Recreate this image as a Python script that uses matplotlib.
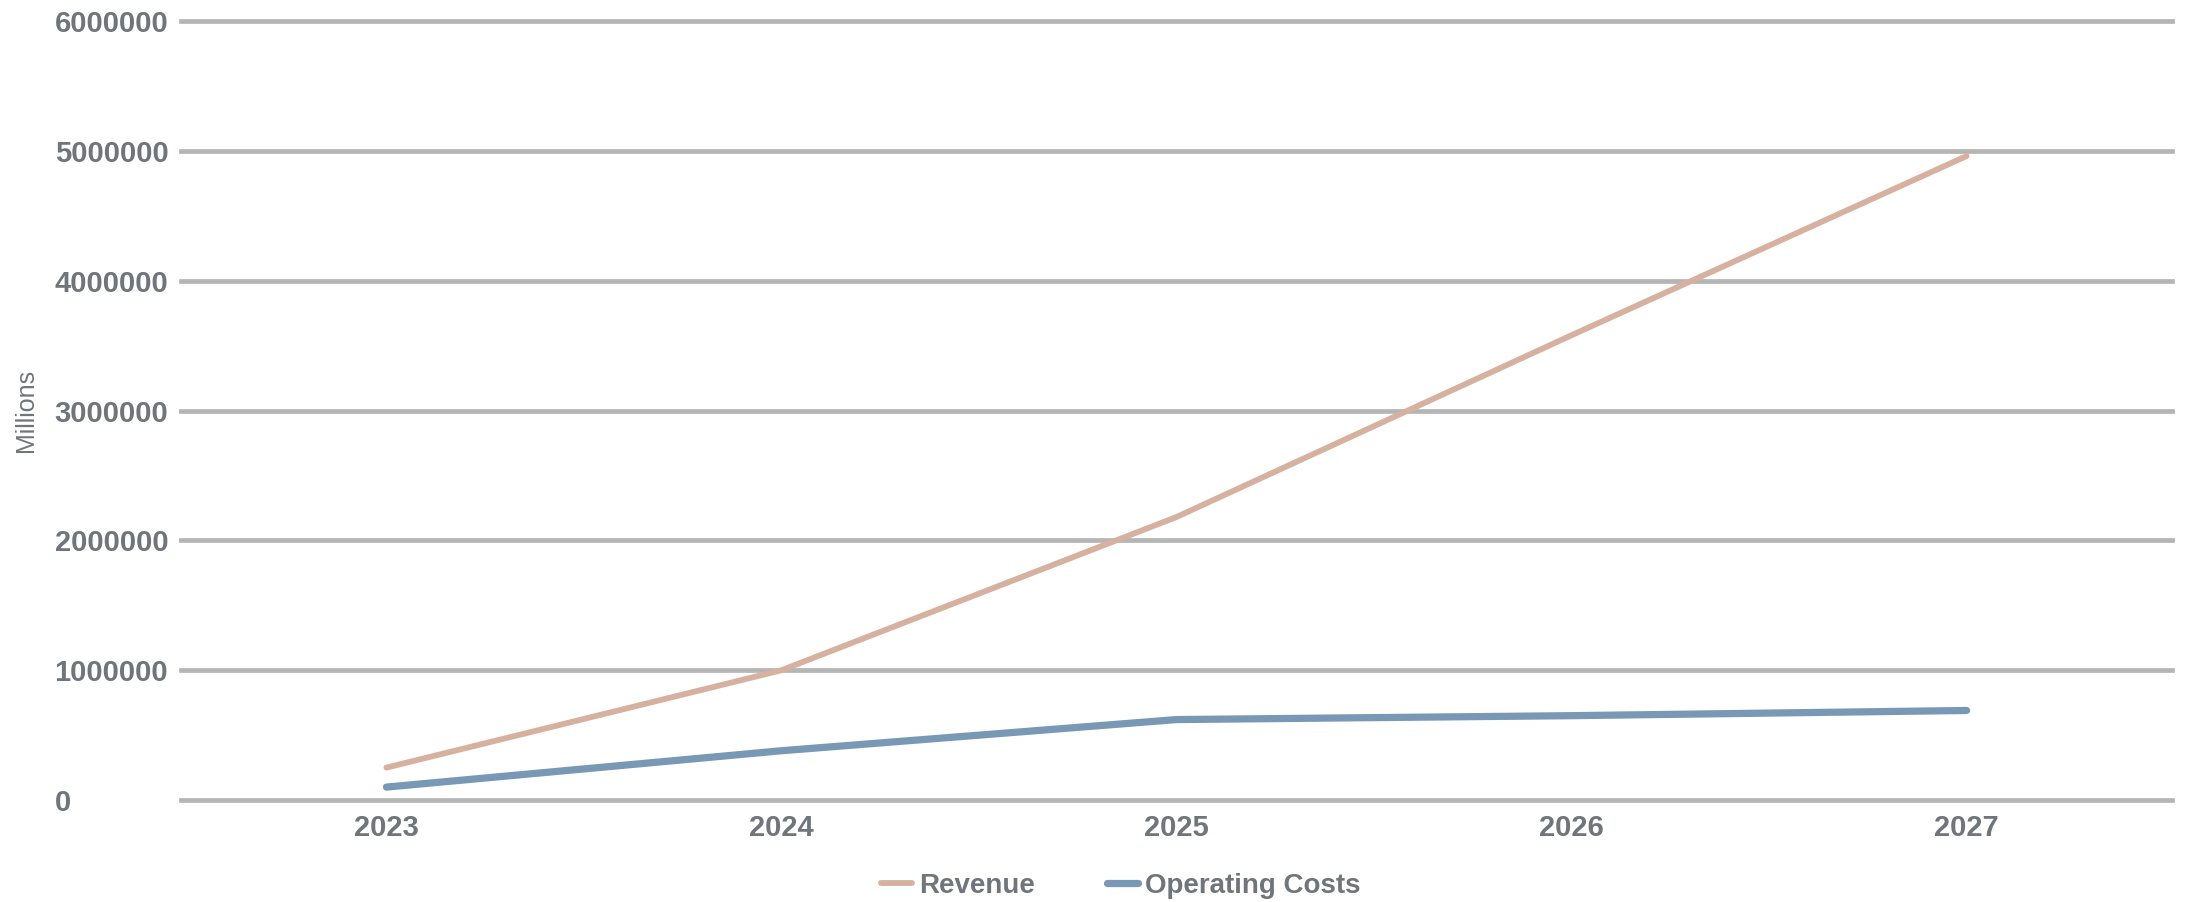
import matplotlib
matplotlib.use("Agg")
import matplotlib.pyplot as plt
import numpy as np

# values
years = ["2023", "2024", "2025", "2026", "2027"]
revenue = [250000, 1000000, 2180000, 3580000, 4960000]
operating_costs = [100000, 380000, 620000, 650000, 690000]
y_ticks = [0, 1000000, 2000000, 3000000, 4000000, 5000000, 6000000]

text_color = "#70757b"
plt.rcParams["font.family"] = ["Liberation Sans", "DejaVu Sans"]

fig = plt.figure(figsize=(21.86, 9.02), dpi=100)
ax = fig.add_axes([0.0828, 0.113, 0.9108, 0.8637])

x = np.arange(len(years))
ax.plot(x, revenue, color="#d6b1a0", lw=4.2, solid_capstyle="round", label="Revenue")
ax.plot(x, operating_costs, color="#7898b5", lw=5.2, solid_capstyle="round",
        label="Operating Costs")

ax.set_xlim(-0.52, len(years) - 1 + 0.52)
ax.set_ylim(0, 6000000)
ax.set_xticks(x)
ax.set_xticklabels(years)
ax.set_yticks(y_ticks)
ax.set_yticklabels([str(v) for v in y_ticks])
ax.tick_params(length=0, labelsize=21, labelcolor=text_color)
ax.tick_params(axis="x", pad=10)
# y labels are left aligned in the reference
ax.tick_params(axis="y", pad=91)
for lab in ax.get_yticklabels():
    lab.set_horizontalalignment("left")
for lab in ax.get_xticklabels() + ax.get_yticklabels():
    lab.set_fontweight("bold")

ax.grid(axis="y", color="#b5b5b5", lw=3.4)
ax.set_axisbelow(True)
# keep the 0 and top gridlines full width
for gl in ax.get_ygridlines():
    gl.set_clip_on(False)
for s in ax.spines.values():
    s.set_visible(False)

ax.set_ylabel("Millions", fontsize=18, color=text_color)
ax.yaxis.set_label_coords(-0.072, 0.5)

leg = ax.legend(loc="center", bbox_to_anchor=(0.472, -0.11), ncol=2,
                frameon=False, fontsize=20, handlelength=1.1, handletextpad=0.25,
                columnspacing=2.6, borderaxespad=0)
for t in leg.get_texts():
    t.set_color(text_color)
    t.set_fontweight("bold")

fig.savefig("out.png", dpi=100, facecolor="white")
